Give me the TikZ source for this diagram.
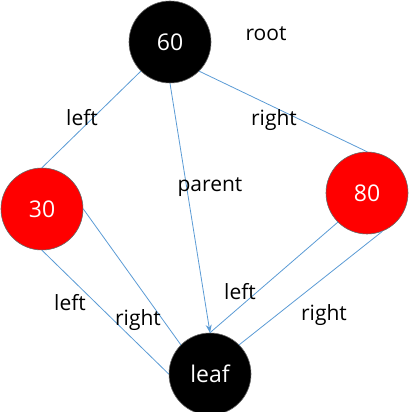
\documentclass[tikz,border=0pt]{standalone}
\usepackage{fontspec}
\setmainfont{Open Sans}
\usetikzlibrary{arrows.meta}
\definecolor{linkblue}{HTML}{5B9BD5}
\begin{document}
\begin{tikzpicture}[x=0.5pt, y=0.5pt, >={Stealth[length=4pt,width=3pt]},
  treenode/.style={circle, draw=black!60, line width=0.3pt, minimum size=41pt,
    inner sep=0pt, text=white, font=\fontsize{11.5}{12}\selectfont},
  link/.style={draw=linkblue, line width=0.4pt},
  lbl/.style={font=\fontsize{10.5}{12}\selectfont, inner sep=0pt}]
  \useasboundingbox (0,0) rectangle (409,412);
  \node[treenode, fill=black] (n60) at (170,370) {60};
  \node[treenode, fill=red] (n30) at (42,203) {30};
  \node[treenode, fill=red] (n80) at (367,219) {80};
  \node[treenode, fill=black] (leaf) at (210,38) {leaf};
  \node[lbl] (root) at (266,378) {root};
  \draw[link] (n60.south west) -- (n30.north);
  \draw[link] (n60.south east) -- (n80.north);
  \draw[link, ->] (n60.south) -- (leaf.north);
  \draw[link] (n30.south) -- (leaf.west);
  \draw[link] (n30.east) -- (leaf.north west);
  \draw[link] (n80.south west) -- (leaf.north);
  \draw[link] (n80.-68) -- (leaf.north east);
  \node[lbl] (l60l) at (82,294) {left};
  \node[lbl] (l60r) at (274,292) {right};
  \node[lbl] (lpar) at (210,225) {parent};
  \node[lbl] (l30l) at (70,109) {left};
  \node[lbl] (l30r) at (138,92) {right};
  \node[lbl] (l80l) at (240,120) {left};
  \node[lbl] (l80r) at (324,97) {right};
\end{tikzpicture}
\end{document}
